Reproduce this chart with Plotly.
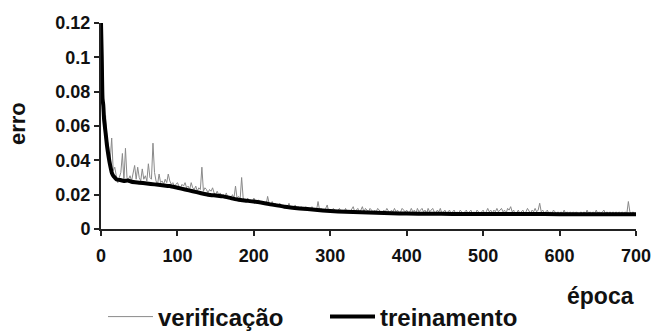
import plotly.graph_objects as go

# validation error sampled every 2 epochs (0..700)
val_epochs = list(range(0, 701, 2))
val_err = [
    0.118, 0.080, 0.062, 0.066, 0.052, 0.048, 0.040, 0.053, 0.034, 0.036,
    0.031, 0.027, 0.030, 0.033, 0.044, 0.028, 0.047, 0.030, 0.029, 0.031,
    0.028, 0.032, 0.037, 0.029, 0.036, 0.030, 0.028, 0.035, 0.029, 0.031,
    0.028, 0.038, 0.030, 0.029, 0.050, 0.033, 0.028, 0.026, 0.032, 0.027,
    0.028, 0.026, 0.029, 0.027, 0.032, 0.028, 0.026, 0.027, 0.025, 0.026,
    0.027, 0.025, 0.024, 0.026, 0.025, 0.027, 0.024, 0.025, 0.023, 0.027,
    0.024, 0.023, 0.025, 0.022, 0.024, 0.023, 0.036, 0.022, 0.024, 0.023,
    0.021, 0.023, 0.022, 0.024, 0.021, 0.020, 0.022, 0.020, 0.021, 0.019,
    0.020, 0.019, 0.021, 0.018, 0.019, 0.018, 0.020, 0.018, 0.025, 0.018,
    0.019, 0.017, 0.030, 0.018, 0.017, 0.016, 0.018, 0.016, 0.017, 0.016,
    0.018, 0.016, 0.015, 0.017, 0.016, 0.015, 0.016, 0.015, 0.014, 0.019,
    0.015, 0.014, 0.016, 0.014, 0.015, 0.013, 0.014, 0.015, 0.013, 0.014,
    0.013, 0.014, 0.013, 0.015, 0.012, 0.013, 0.012, 0.014, 0.012, 0.013,
    0.012, 0.013, 0.012, 0.011, 0.013, 0.012, 0.011, 0.012, 0.013, 0.011,
    0.012, 0.011, 0.016, 0.011, 0.012, 0.010, 0.011, 0.012, 0.014, 0.010,
    0.011, 0.010, 0.012, 0.011, 0.010, 0.011, 0.012, 0.010, 0.011, 0.010,
    0.012, 0.010, 0.011, 0.010, 0.012, 0.013, 0.010, 0.011, 0.012, 0.010,
    0.011, 0.013, 0.010, 0.012, 0.011, 0.010, 0.012, 0.011, 0.010, 0.011,
    0.010, 0.012, 0.011, 0.010, 0.009, 0.011, 0.010, 0.012, 0.010, 0.009,
    0.011, 0.010, 0.012, 0.010, 0.011, 0.009, 0.010, 0.012, 0.011, 0.010,
    0.011, 0.009, 0.010, 0.012, 0.010, 0.011, 0.009, 0.012, 0.010, 0.011,
    0.012, 0.010, 0.011, 0.009, 0.012, 0.010, 0.011, 0.012, 0.010, 0.009,
    0.011, 0.010, 0.012, 0.009, 0.010, 0.011, 0.009, 0.010, 0.011, 0.009,
    0.010, 0.011, 0.009, 0.010, 0.009, 0.011, 0.010, 0.009, 0.010, 0.011,
    0.009, 0.010, 0.011, 0.009, 0.010, 0.009, 0.011, 0.010, 0.009, 0.010,
    0.011, 0.009, 0.010, 0.012, 0.010, 0.011, 0.009, 0.011, 0.010, 0.012,
    0.010, 0.011, 0.012, 0.010, 0.011, 0.009, 0.012, 0.011, 0.013, 0.010,
    0.011, 0.008, 0.010, 0.011, 0.009, 0.010, 0.011, 0.009, 0.010, 0.012,
    0.010, 0.009, 0.011, 0.010, 0.012, 0.010, 0.011, 0.015, 0.010, 0.011,
    0.009, 0.010, 0.011, 0.009, 0.010, 0.009, 0.011, 0.010, 0.009, 0.010,
    0.009, 0.010, 0.009, 0.011, 0.009, 0.010, 0.009, 0.010, 0.009, 0.010,
    0.009, 0.010, 0.009, 0.008, 0.010, 0.009, 0.010, 0.009, 0.011, 0.009,
    0.010, 0.009, 0.010, 0.009, 0.011, 0.009, 0.010, 0.009, 0.010, 0.011,
    0.009, 0.010, 0.009, 0.010, 0.009, 0.010, 0.009, 0.010, 0.009, 0.010,
    0.009, 0.010, 0.009, 0.010, 0.009, 0.016, 0.010, 0.009, 0.010, 0.009,
    0.009,
]

# training error
train_epochs = [0, 1, 2, 3, 4, 5, 6, 7, 8, 10, 12, 14, 16, 18, 20, 25, 30, 35,
                40, 50, 60, 70, 80, 90, 100, 110, 120, 130, 140, 150, 160, 170,
                180, 190, 200, 220, 240, 260, 280, 300, 320, 340, 360, 380, 400,
                430, 460, 500, 540, 580, 620, 660, 700]
train_err = [0.120, 0.100, 0.076, 0.072, 0.064, 0.060, 0.056, 0.052, 0.048,
             0.042, 0.037, 0.033, 0.031, 0.030, 0.029, 0.0285, 0.028, 0.0282,
             0.0275, 0.027, 0.0265, 0.026, 0.0255, 0.025, 0.024, 0.023, 0.022,
             0.021, 0.020, 0.0195, 0.019, 0.018, 0.017, 0.0165, 0.016, 0.0145,
             0.013, 0.012, 0.0112, 0.0105, 0.010, 0.0097, 0.0094, 0.0092,
             0.009, 0.0089, 0.0088, 0.0088, 0.0087, 0.0087, 0.0086, 0.0086,
             0.0086]

x_ticks = [0, 100, 200, 300, 400, 500, 600, 700]
y_ticks = [0, 0.02, 0.04, 0.06, 0.08, 0.1, 0.12]
y_tick_labels = ["0", "0.02", "0.04", "0.06", "0.08", "0.1", "0.12"]

FONT = "Liberation Sans, Arial, sans-serif"

fig = go.Figure()
fig.add_trace(go.Scatter(x=val_epochs, y=val_err, mode="lines", name="verificação",
                         line=dict(color="#8a8a8a", width=1)))
fig.add_trace(go.Scatter(x=train_epochs, y=train_err, mode="lines", name="treinamento",
                         line=dict(color="#000000", width=4, shape="spline", smoothing=0.6)))

axis_common = dict(showgrid=False, zeroline=False, showline=True, linecolor="#222",
                   linewidth=2, ticks="outside", ticklen=5, tickwidth=1.5, tickcolor="#222",
                   automargin=False,
                   tickfont=dict(family=FONT, size=18, color="#111", weight="bold"))

fig.update_xaxes(range=[0, 700], tickvals=x_ticks, ticklabelstandoff=4, **axis_common)
fig.update_yaxes(range=[0, 0.12], tickvals=y_ticks, ticktext=y_tick_labels, **axis_common)

fig.update_layout(
    width=652, height=332,
    margin=dict(l=101, r=16, t=23, b=103, autoexpand=False),
    paper_bgcolor="white", plot_bgcolor="white",
    font=dict(family=FONT, color="#111"),
    showlegend=True,
    legend=dict(orientation="h", xref="container", yref="container",
                x=103 / 652, y=15 / 332, xanchor="left", yanchor="middle",
                itemwidth=45, entrywidth=162, entrywidthmode="pixels",
                font=dict(family=FONT, size=24, color="#111", weight="bold"),
                bgcolor="rgba(0,0,0,0)"),
    annotations=[
        dict(text="erro", xref="paper", yref="paper", x=-0.155, y=0.51, showarrow=False,
             xanchor="center", yanchor="middle",
             textangle=-90, font=dict(family=FONT, size=22, color="#111", weight="bold")),
        dict(text="época", xref="paper", yref="paper", x=1.0, y=-0.325, xanchor="right",
             yanchor="middle", showarrow=False,
             font=dict(family=FONT, size=23, color="#111", weight="bold")),
    ],
)

fig.write_html("out.html")
